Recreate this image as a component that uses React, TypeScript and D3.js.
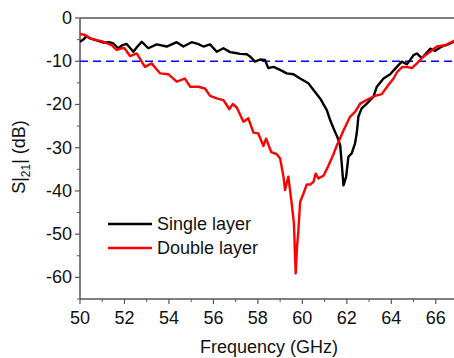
import React from "react";
import * as d3 from "d3";

const singleFreq = [50.0,50.15,50.3,50.45,50.75,51.05,51.3,51.5,51.72,51.9,52.1,52.4,52.6,52.78,53.07,53.45,53.9,54.35,54.65,55.02,55.3,55.55,55.85,56.15,56.45,56.75,57.0,57.2,57.5,57.65,57.87,58.1,58.32,58.47,58.7,59.0,59.3,59.6,59.9,60.27,60.57,60.8,61.1,61.25,61.4,61.57,61.7,61.77,61.85,61.97,62.07,62.22,62.37,62.45,62.52,62.67,62.9,63.2,63.35,63.65,63.95,64.25,64.47,64.7,64.85,65.0,65.15,65.37,65.75,65.97,66.27,66.65,66.85];
const singleDb = [-5.5,-5.0,-4.2,-4.7,-5.2,-5.7,-5.6,-5.9,-7.0,-6.3,-6.0,-7.8,-6.5,-5.5,-7.0,-6.1,-6.6,-5.6,-6.6,-5.6,-6.0,-6.6,-6.1,-7.8,-7.0,-7.9,-8.1,-8.3,-8.4,-8.9,-10.1,-9.6,-9.7,-11.6,-11.3,-12.0,-12.8,-13.0,-14.0,-15.1,-17.1,-18.6,-21.3,-23.6,-25.5,-27.5,-29.4,-33.6,-38.7,-36.7,-32.1,-31.3,-29.0,-26.5,-22.8,-20.9,-19.8,-18.2,-15.9,-14.0,-13.0,-11.3,-10.1,-10.7,-9.7,-8.6,-8.2,-9.3,-7.1,-7.6,-6.6,-5.9,-5.4];

const doubleFreq = [50.0,50.22,50.45,50.75,51.05,51.42,51.65,51.87,52.0,52.25,52.55,52.92,53.22,53.6,53.97,54.35,54.72,54.95,55.32,55.62,55.85,56.15,56.45,56.72,56.87,57.05,57.35,57.57,57.8,58.02,58.25,58.37,58.6,58.85,59.0,59.15,59.22,59.37,59.52,59.62,59.7,59.76,59.82,59.9,60.05,60.2,60.35,60.5,60.6,60.72,60.95,61.17,61.4,61.55,61.85,62.15,62.37,62.6,62.95,63.27,63.57,63.87,64.1,64.25,64.47,64.7,64.92,65.15,65.45,65.75,66.05,66.42,66.85];
const doubleDb = [-3.7,-3.9,-4.7,-5.1,-5.5,-6.25,-7.4,-7.0,-7.0,-8.8,-8.2,-11.3,-10.5,-12.8,-13.0,-14.7,-14.0,-15.9,-15.9,-16.3,-18.0,-18.6,-19.0,-21.1,-19.9,-20.7,-24.0,-23.2,-26.5,-26.7,-29.6,-27.9,-31.0,-31.5,-32.5,-36.7,-39.8,-36.7,-42.9,-47.5,-59.1,-53.0,-49.3,-42.5,-40.6,-38.5,-38.5,-37.9,-36.0,-37.1,-36.5,-34.2,-31.5,-29.5,-26.0,-22.8,-21.7,-19.8,-18.8,-18.0,-17.6,-15.5,-14.0,-12.6,-11.4,-11.3,-11.6,-10.5,-8.9,-7.8,-6.6,-6.3,-5.2];

const xTicks = [50,52,54,56,58,60,62,64,66];
const xMinor = [51,53,55,57,59,61,63,65];
const yTicks = [0,-10,-20,-30,-40,-50,-60];
const yMinor = [-5,-15,-25,-35,-45,-55,-65];
const threshold = -10;
const seriesNames = ["Single layer","Double layer"];

export default function App() {
  const W = 454, H = 358;
  const x = d3.scaleLinear().domain([50, 67]).range([80, 458]);
  const y = d3.scaleLinear().domain([-65, 0]).range([299, 18]);
  const left = 80, top = 18, bottom = 299, right = 454;
  const line = d3.line<[number, number]>().x(d => x(d[0])).y(d => y(d[1]));
  const sData = singleFreq.map((f, i) => [f, singleDb[i]] as [number, number]);
  const dData = doubleFreq.map((f, i) => [f, doubleDb[i]] as [number, number]);
  const font = "Arial, 'Liberation Sans', sans-serif";
  const axisColor = "#555";
  return (
    <svg width={W} height={H} style={{ position: "absolute", left: 0, top: 0, background: "#fff" }} fontFamily={font}>
      <defs>
        <clipPath id="plot"><rect x={left} y={top} width={right - left} height={bottom - top} /></clipPath>
      </defs>
      <line x1={left} x2={right} y1={top} y2={top} stroke="#000" strokeWidth={1.2} />
      <line x1={left} x2={left} y1={top} y2={bottom} stroke={axisColor} strokeWidth={1.5} />
      <line x1={left} x2={right} y1={bottom} y2={bottom} stroke={axisColor} strokeWidth={1.5} />
      {yTicks.map(t => (
        <g key={"y" + t}>
          <line x1={left - 5} x2={left} y1={y(t)} y2={y(t)} stroke={axisColor} strokeWidth={1.2} />
          <text x={left - 8} y={y(t) + 6} fontSize={18} textAnchor="end" fill="#111">{t}</text>
        </g>
      ))}
      {yMinor.map(t => (
        <line key={"ym" + t} x1={left - 3} x2={left} y1={y(t)} y2={y(t)} stroke={axisColor} strokeWidth={1} />
      ))}
      {xTicks.map(t => (
        <g key={"x" + t}>
          <line x1={x(t)} x2={x(t)} y1={bottom} y2={bottom + 5} stroke={axisColor} strokeWidth={1.2} />
          <text x={x(t)} y={bottom + 25} fontSize={18} textAnchor="middle" fill="#111">{t}</text>
        </g>
      ))}
      {xMinor.map(t => (
        <line key={"xm" + t} x1={x(t)} x2={x(t)} y1={bottom} y2={bottom + 3} stroke={axisColor} strokeWidth={1} />
      ))}
      <g clipPath="url(#plot)">
        <line x1={left} x2={right} y1={y(threshold)} y2={y(threshold)} stroke="#0000ff" strokeWidth={1.5} strokeDasharray="8,5" />
        <path d={line(sData) || ""} fill="none" stroke="#000" strokeWidth={2.4} strokeLinejoin="round" />
        <path d={line(dData) || ""} fill="none" stroke="#ff0000" strokeWidth={2.4} strokeLinejoin="round" />
      </g>
      <line x1={108} x2={152} y1={224} y2={224} stroke="#000" strokeWidth={2.4} />
      <text x={157} y={230} fontSize={18} fill="#111">{seriesNames[0]}</text>
      <line x1={108} x2={152} y1={248} y2={248} stroke="#ff0000" strokeWidth={2.4} />
      <text x={157} y={254} fontSize={18} fill="#111">{seriesNames[1]}</text>
      <text x={269} y={353} fontSize={18} textAnchor="middle" fill="#111">Frequency (GHz)</text>
      <text transform="translate(25,157) rotate(-90)" fontSize={18} textAnchor="middle" fill="#111">
        S|<tspan fontSize={12} dy={5}>21</tspan><tspan dy={-5}>| (dB)</tspan>
      </text>
    </svg>
  );
}
